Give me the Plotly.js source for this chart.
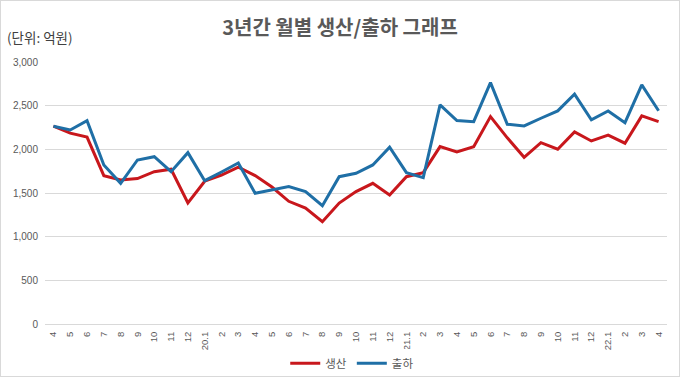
<!DOCTYPE html>
<html><head><meta charset="utf-8">
<script src="https://cdn.plot.ly/plotly-3.0.1.min.js"></script>
<style>
html,body{margin:0;padding:0;background:#fff;}
#wrap{position:relative;width:680px;height:377px;}
#chart{position:absolute;left:0;top:0;width:680px;height:377px;}
#frame{position:absolute;left:0;top:0;width:680px;height:377px;box-sizing:border-box;border:1px solid #d9d9d9;pointer-events:none;}
</style></head>
<body><div id="wrap"><div id="chart"></div><div id="frame"></div></div>
<script>
const months = ['4','5','6','7','8','9','10','11','12','20.1','2','3','4','5','6','7','8','9','10','11','12','21.1','2','3','4','5','6','7','8','9','10','11','12','22.1','2','3','4'];
const production = [2265,2185,2140,1698,1650,1665,1744,1772,1385,1635,1706,1795,1700,1568,1405,1328,1172,1385,1516,1611,1478,1687,1733,2031,1970,2031,2375,2132,1909,2077,2001,2199,2096,2163,2070,2383,2318];
const shipment = [2265,2222,2329,1821,1611,1878,1916,1744,1962,1641,1740,1843,1497,1532,1573,1516,1355,1687,1726,1821,2024,1733,1676,2510,2329,2317,2764,2287,2268,2356,2440,2631,2337,2440,2306,2738,2442];
const seriesNames = ['생산','출하'];
const idx = months.map((m,i)=>i);
const font = '"Noto Sans CJK KR", "Noto Sans", sans-serif';
const traces = [
 {x: idx, y: production, name: seriesNames[0], type:'scatter', mode:'lines', line:{color:'#c8171c', width:3}},
 {x: idx, y: shipment, name: seriesNames[1], type:'scatter', mode:'lines', line:{color:'#1f6fa6', width:3}}
];
const layout = {
 width:680, height:377,
 margin:{l:45, r:13, t:62, b:53},
 paper_bgcolor:'#fff', plot_bgcolor:'#fff',
 font:{family:font, color:'#595959'},
 title:{text:'3년간 월별 생산/출하 그래프', x:0.5, xref:'container', xanchor:'center', y:0.926, yref:'container', yanchor:'middle', automargin:false, font:{size:20, family:font, color:'#595959', weight:'bold'}},
 xaxis:{range:[-0.5,36.5], tickmode:'array', tickvals:idx, ticktext:months, tickangle:-90, automargin:false,
   tickfont:{size:9.5, color:'#595959', family:'"Liberation Sans", sans-serif'}, showgrid:false, showline:false, zeroline:false, ticks:'outside', ticklen:3, tickcolor:'rgba(0,0,0,0)', fixedrange:true},
 yaxis:{range:[0,3000], tickvals:[0,500,1000,1500,2000,2500,3000], tickformat:',', showgrid:true, gridcolor:'#d9d9d9', gridwidth:1, automargin:false,
   zeroline:true, zerolinecolor:'#d9d9d9', zerolinewidth:1, showline:false, ticks:'', tickfont:{size:10, color:'#595959', family:'"Liberation Sans", sans-serif'}, ticklabelstandoff:6},
 showlegend:true,
 legend:{orientation:'h', x:0.518, xanchor:'center', xref:'container', y:0.075, yref:'container', yanchor:'top', font:{size:11.5, family:font, color:'#595959'}, traceorder:'normal', itemwidth:30},
 annotations:[{text:'(단위: 억원)', xref:'paper', yref:'paper', x:-0.064, y:1.05, xanchor:'left', yanchor:'bottom', showarrow:false, font:{size:13.5, family:font, color:'#404040'}}]
};
Plotly.newPlot('chart', traces, layout, {displayModeBar:false, staticPlot:true});
</script></body></html>
